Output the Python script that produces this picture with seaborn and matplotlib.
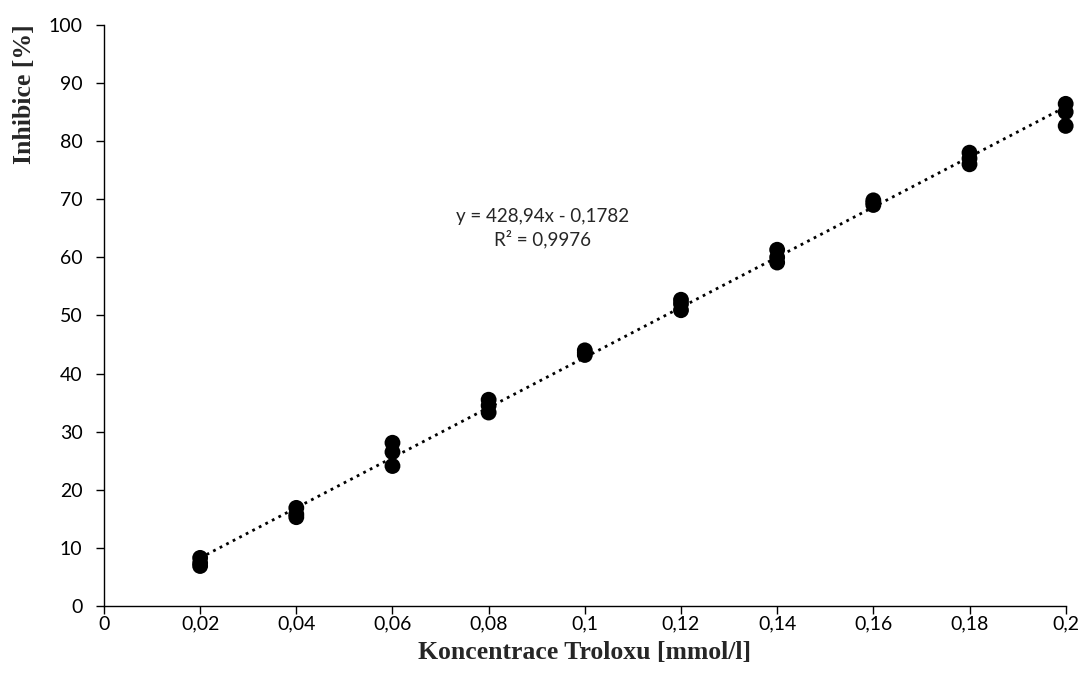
import numpy as np
import pandas as pd
import seaborn as sns
from matplotlib import pyplot as plt

# three replicates per concentration
conc = [0.02, 0.04, 0.06, 0.08, 0.10, 0.12, 0.14, 0.16, 0.18, 0.20]
rep1 = [8.3, 16.9, 28.1, 35.5, 44.0, 52.7, 61.3, 69.8, 78.0, 86.4]
rep2 = [7.4, 15.8, 26.5, 34.5, 43.6, 52.0, 60.0, 69.4, 77.0, 85.0]
rep3 = [6.9, 15.3, 24.1, 33.3, 43.2, 50.9, 59.1, 69.0, 76.0, 82.6]

xticks = [0, 0.02, 0.04, 0.06, 0.08, 0.1, 0.12, 0.14, 0.16, 0.18, 0.2]
xticklabels = ['0', '0,02', '0,04', '0,06', '0,08', '0,1', '0,12', '0,14', '0,16', '0,18', '0,2']
yticks = list(range(0, 101, 10))

df = pd.DataFrame({
    'conc': conc * 3,
    'inh': rep1 + rep2 + rep3,
})

sns.set_style('ticks')
plt.rcParams['font.family'] = ['Lato', 'DejaVu Sans']

fig = plt.figure(figsize=(10.83, 6.88), dpi=100)
ax = fig.add_axes([0.096, 0.119, 0.888, 0.845])

sns.regplot(data=df, x='conc', y='inh', ax=ax, ci=None, color='black',
            scatter_kws={'s': 130, 'alpha': 1, 'edgecolor': 'none'},
            line_kws={'linestyle': ':', 'linewidth': 2, 'color': 'black'})

ax.set_xlim(0, 0.2)
ax.set_ylim(0, 100)
ax.set_xticks(xticks)
ax.set_xticklabels(xticklabels)
ax.set_yticks(yticks)
ax.tick_params(labelsize=14, length=5.5, width=1, color='black', labelcolor='black')
ax.tick_params(axis='y', pad=10)
ax.tick_params(axis='x', pad=1.5)
for s in ['top', 'right']:
    ax.spines[s].set_visible(False)
for s in ['left', 'bottom']:
    ax.spines[s].set_color('black')
    ax.spines[s].set_linewidth(1)
for c in ax.collections:
    c.set_clip_on(False)

ax.set_xlabel('Koncentrace Troloxu [mmol/l]', fontsize=18.5, fontweight='bold',
              family='Liberation Serif', labelpad=6)
ax.set_ylabel('Inhibice [%]', fontsize=18.5, fontweight='bold',
              family='Liberation Serif')
ax.yaxis.set_label_coords(-0.071, 0.88)

ax.text(0.0913, 65, 'y = 428,94x - 0,1782\nR² = 0,9976', ha='center', va='center',
        fontsize=13.5, linespacing=1.25)

fig.savefig('out.png', dpi=100)
